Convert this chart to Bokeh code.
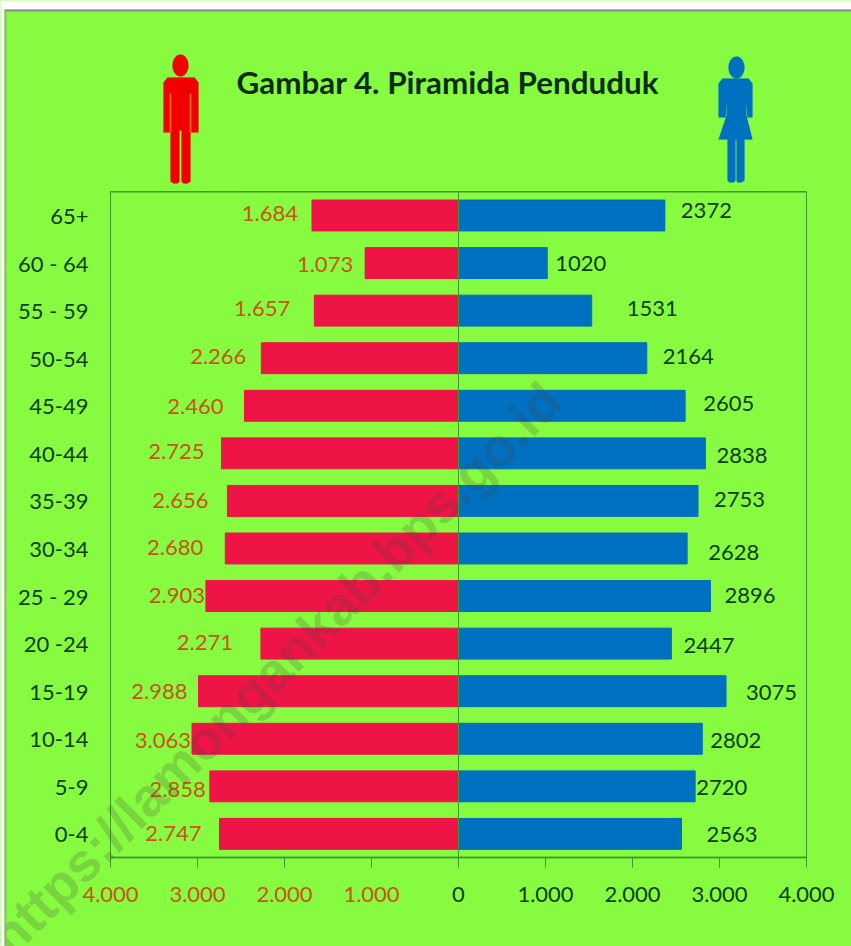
from bokeh.plotting import figure
from bokeh.models import (ColumnDataSource, Range1d, Label, PolyAnnotation,
                          BoxAnnotation, FixedTicker, LinearAxis)
from bokeh.core.properties import value
from bokeh.embed import file_html
from bokeh.resources import INLINE
import numpy as np

categories = ["65+", "60 - 64", "55 - 59", "50-54", "45-49", "40-44", "35-39", "30-34",
              "25 - 29", "20 -24", "15-19", "10-14", "5-9", "0-4"]
male = [1684, 1073, 1657, 2266, 2460, 2725, 2656, 2680, 2903, 2271, 2988, 3063, 2858, 2747]
female = [2372, 1020, 1531, 2164, 2605, 2838, 2753, 2628, 2896, 2447, 3075, 2802, 2720, 2563]
male_labels = ["1.684", "1.073", "1.657", "2.266", "2.460", "2.725", "2.656", "2.680",
               "2.903", "2.271", "2.988", "3.063", "2.858", "2.747"]
female_labels = [str(v) for v in female]
left_ticks = [-4000, -3000, -2000, -1000]
left_tick_labels = ["4.000", "3.000", "2.000", "1.000"]
right_ticks = [0, 1000, 2000, 3000, 4000]
right_tick_labels = ["0", "1.000", "2.000", "3.000", "4.000"]

# hand-placed label gaps in the source chart (pixels)
male_gap = [14, 12, 24, 15, 21, 17, 19, 22, 1, 28, 11, 1, 4, 18]
male_dy = [-2, 1, -2, -2, 1, -2, 0, -1, -1, -1, 0, 2, 3, 0]
female_gap = [16, 8, 35, 16, 18, 11, 16, 21, 14, 12, 20, 8, 1, 25]
female_dy = [-5, 0, -2, -2, -2, 2, -1, 4, -1, 2, 1, 2, 1, 1]

W, H = 851, 946
M = 0
BG = "#86fb40"
DARK = "#0f3d12"
ORANGE = "#c9541a"
LINE = "#3f9a2e"
FONT = "Lato"
FS = "22px"

# the frame fills the canvas; the ranges place the plot area inside it
PX_PER_UNIT = 0.087
X0 = 458
ROW0, ROW = 215.0, 47.57
x_range = Range1d((M - X0) / PX_PER_UNIT, (M + W - X0) / PX_PER_UNIT)
y_range = Range1d((M + H - ROW0) / ROW, (M - ROW0) / ROW)
BOTTOM, TOP = len(categories) - 0.5, -0.5

p = figure(width=W, height=H, output_backend="svg", toolbar_location=None,
           x_range=x_range, y_range=y_range, x_axis_type=None, y_axis_type=None,
           min_border=0, min_border_left=0, min_border_right=0, min_border_top=0, min_border_bottom=0)
p.background_fill_color = BG
p.border_fill_color = BG
p.outline_line_color = None
p.grid.visible = False

rows = list(range(len(categories)))
src = ColumnDataSource(dict(row=rows, male=[-v for v in male], female=female, zero=[0] * 14,
                            ml=male_labels, fl=female_labels,
                            mo=[-g for g in male_gap], fo=female_gap,
                            mdy=male_dy, fdy=female_dy))
p.hbar(y="row", left="male", right="zero", height=0.65, color="#ef1446", source=src)
p.hbar(y="row", left="zero", right="female", height=0.65, color="#0070c0", source=src)
p.line(x=[0, 0], y=[TOP, BOTTOM], line_color=LINE, line_width=1)
p.line(x=[left_ticks[0], right_ticks[-1]], y=[TOP, TOP], line_color=LINE, line_width=1.5)
p.line(x=[right_ticks[-1], right_ticks[-1]], y=[TOP, BOTTOM], line_color=LINE, line_width=1)

p.text(x="male", y="row", text="ml", x_offset="mo", y_offset="mdy", source=src,
       text_font=value(FONT), text_font_size=value(FS), text_color=ORANGE,
       text_align="right", text_baseline="middle")
p.text(x="female", y="row", text="fl", x_offset="fo", y_offset="fdy", source=src,
       text_font=value(FONT), text_font_size=value(FS), text_color=DARK,
       text_align="left", text_baseline="middle")

def x_axis(ticks, labels, colour):
    a = LinearAxis(fixed_location=BOTTOM, bounds=(left_ticks[0], right_ticks[-1]))
    a.ticker = FixedTicker(ticks=ticks)
    a.major_label_overrides = dict(zip(ticks, labels))
    a.minor_tick_line_color = None
    a.major_tick_in = 0
    a.major_tick_out = 10
    a.major_tick_line_color = LINE
    a.axis_line_color = LINE
    a.axis_line_width = 1.5
    a.major_label_standoff = 19
    a.major_label_text_font = FONT
    a.major_label_text_font_size = FS
    a.major_label_text_color = colour
    p.add_layout(a, "below")

x_axis(left_ticks, left_tick_labels, ORANGE)
x_axis(right_ticks, right_tick_labels, DARK)

ya = LinearAxis(fixed_location=left_ticks[0], bounds=(TOP, BOTTOM))
ya.ticker = FixedTicker(ticks=rows)
ya.major_label_overrides = dict(zip(rows, categories))
ya.axis_line_color = LINE
ya.major_tick_line_color = None
ya.minor_tick_line_color = None
ya.major_tick_out = 0
ya.major_tick_in = 0
ya.major_label_standoff = 22
ya.major_label_text_font = FONT
ya.major_label_text_font_size = FS
ya.major_label_text_color = DARK
p.add_layout(ya, "left")

# title (screen y counts from the bottom of the canvas)
def sx(x):
    return x - M

def sy(y):
    return H - (y - M)

p.add_layout(Label(x=sx(236), y=sy(81), x_units="screen", y_units="screen",
                   text="Gambar 4. Piramida Penduduk", text_font=FONT, text_font_size="31.4px",
                   text_font_style="bold", text_color="#0c2d0c", text_align="left",
                   text_baseline="middle"))

def poly(xs, ys, c):
    p.add_layout(PolyAnnotation(xs=[sx(x) for x in xs], ys=[sy(y) for y in ys],
                                xs_units="screen", ys_units="screen",
                                fill_color=c, fill_alpha=1, line_color=c, line_width=0.5))

def head(cx, cy, c):
    t = np.linspace(0, 2 * np.pi, 40)
    poly(list(cx + 8 * np.cos(t)), list(cy + 11 * np.sin(t)), c)

RED, BLUE = "#f00000", "#0070c0"
head(180, 65, RED)
poly([163, 167, 194, 198, 198, 190, 190, 187, 183, 181, 181, 179, 179, 177, 173, 170, 170, 163],
     [82, 77, 77, 82, 132, 132, 181, 183, 183, 181, 130, 130, 181, 183, 183, 181, 132, 132], RED)
for x in (170, 190):
    poly([x - 0.8, x + 0.8, x + 0.8, x - 0.8], [93, 93, 132, 132], "#ff6a20")
head(736, 67, BLUE)
poly([718, 722, 748, 752, 752, 747, 745, 746, 752, 744, 744, 741, 737, 736, 736, 735, 735, 733, 729, 727, 727,
      718, 726, 727, 725, 718],
     [83, 78, 78, 83, 117, 117, 100, 115, 139, 139, 180, 182, 182, 180, 139, 139, 180, 182, 182, 180, 139,
      139, 115, 100, 117, 117], BLUE)

# watermark
p.add_layout(Label(x=sx(-2), y=sy(945), x_units="screen", y_units="screen", angle=45, angle_units="deg",
                   text="https://lamongankab.bps.go.id", text_font="Liberation Sans",
                   text_font_size="54px", text_font_style="bold", text_color="#404040", text_alpha=0.2,
                   text_align="left", text_baseline="middle"))

# white page and gray edge of the pasted picture
def box(l, r, t, b, c):
    p.add_layout(BoxAnnotation(left=l, right=r, top=H - t, bottom=H - b, left_units="screen", right_units="screen",
                               top_units="screen", bottom_units="screen", fill_color=c, fill_alpha=1,
                               line_color=None))

box(0, W, 0, 9, "#ffffff")
box(0, 4, 0, H, "#ffffff")
box(4, W, 9, 11, "#8a8a8a")
box(4, 6, 9, H, "#8fb878")

open("out.html", "w").write(file_html(p, INLINE))
